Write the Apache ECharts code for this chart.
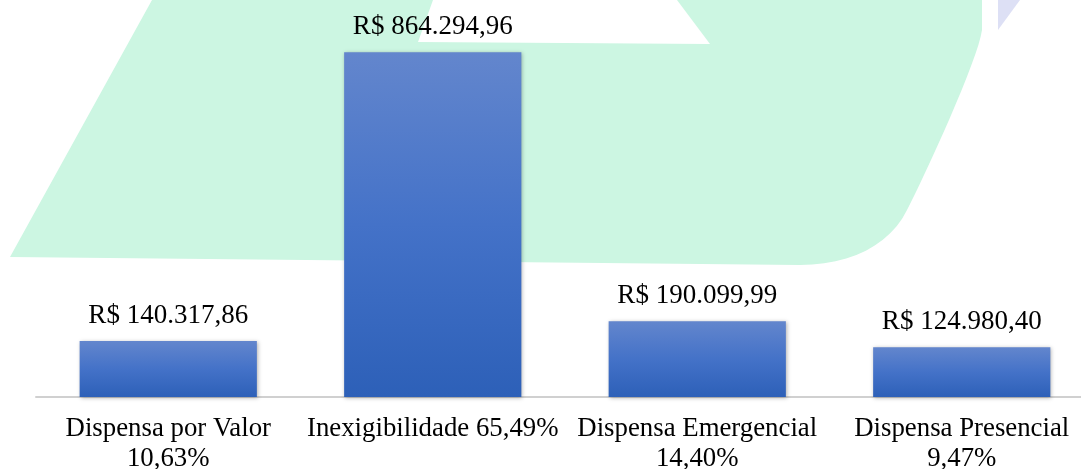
<!DOCTYPE html>
<html lang="pt">
<head>
	<meta charset="UTF-8">
	<title>Dispensas e Inexigibilidade</title>
	<style>
		html, body { margin: 0; padding: 0; background: #fff; }
		#main { width: 1081px; height: 469px; }
	</style>
</head>
<body>
	<div id="main"></div>
	<script src="https://cdn.jsdelivr.net/npm/echarts@6/dist/echarts.min.js"></script>
	<script>
		// dados
		var categorias = ['Dispensa por Valor', 'Inexigibilidade', 'Dispensa Emergencial', 'Dispensa Presencial'];
		var percentuais = ['10,63%', '65,49%', '14,40%', '9,47%'];
		var valores = [140317.86, 864294.96, 190099.99, 124980.40];
		var rotulos = [
			'Dispensa por Valor\n10,63%',
			'Inexigibilidade 65,49%',
			'Dispensa Emergencial\n14,40%',
			'Dispensa Presencial\n9,47%'
		];

		function moeda(v) {
			var partes = v.toFixed(2).split('.');
			var inteiro = partes[0].replace(/\B(?=(\d{3})+(?!\d))/g, '.');
			return 'R$ ' + inteiro + ',' + partes[1];
		}

		// curva cubica para o canto arredondado da marca d'agua
		function bezier(p0, p1, p2, p3, n) {
			var pts = [];
			for (var i = 1; i <= n; i++) {
				var t = i / n, u = 1 - t;
				pts.push([
					u * u * u * p0[0] + 3 * u * u * t * p1[0] + 3 * u * t * t * p2[0] + t * t * t * p3[0],
					u * u * u * p0[1] + 3 * u * u * t * p1[1] + 3 * u * t * t * p2[1] + t * t * t * p3[1]
				]);
			}
			return pts;
		}
		var forma = [[152, 0], [433, 0], [418, 42], [710, 44], [677, 0], [982, 0], [982, 30]]
			.concat(bezier([982, 30], [978, 60], [925, 175], [907, 210], 16))
			.concat(bezier([907, 210], [890, 245], [850, 265], [800, 265], 12))
			.concat([[10, 257]]);

		var fonte = '"Liberation Serif", "Times New Roman", serif';
		var myChart = echarts.init(document.getElementById('main'));

		var option = {
			backgroundColor: '#fff',
			animation: false,
			// marca d'agua verde ao fundo
			graphic: [
				{
					type: 'polygon',
					z: -10,
					silent: true,
					shape: { points: forma },
					style: { fill: '#ccf6e2' }
				},
				{
					type: 'polygon',
					z: -10,
					silent: true,
					shape: { points: [[998, 0], [1020, 0], [998, 30]] },
					style: { fill: '#dde0f5' }
				}
			],
			grid: { left: 36, top: -2, bottom: 72, width: 1058, outerBoundsMode: 'none' },
			xAxis: {
				type: 'category',
				data: rotulos,
				axisLine: { show: true, lineStyle: { color: '#d0d0d0', width: 2 } },
				axisTick: { show: false },
				axisLabel: {
					interval: 0,
					margin: 17,
					color: '#000',
					fontFamily: fonte,
					fontSize: 26.8,
					lineHeight: 30
				}
			},
			yAxis: {
				type: 'value',
				min: 0,
				max: 1000000,
				show: false,
				splitLine: { show: false }
			},
			series: [{
				type: 'bar',
				data: valores,
				barWidth: '67%',
				itemStyle: {
					color: new echarts.graphic.LinearGradient(0, 0, 0, 1, [
						{ offset: 0, color: '#6386cd' },
						{ offset: 0.5, color: '#4472c8' },
						{ offset: 1, color: '#2d60b8' }
					]),
					shadowColor: 'rgba(0,0,0,0.3)',
					shadowBlur: 4,
					shadowOffsetX: 1,
					shadowOffsetY: 1
				},
				label: {
					show: true,
					position: 'top',
					distance: 12,
					color: '#000',
					fontFamily: fonte,
					fontSize: 27,
					formatter: function (p) { return moeda(p.value); }
				}
			}]
		};
		myChart.setOption(option);
	</script>
</body>
</html>
